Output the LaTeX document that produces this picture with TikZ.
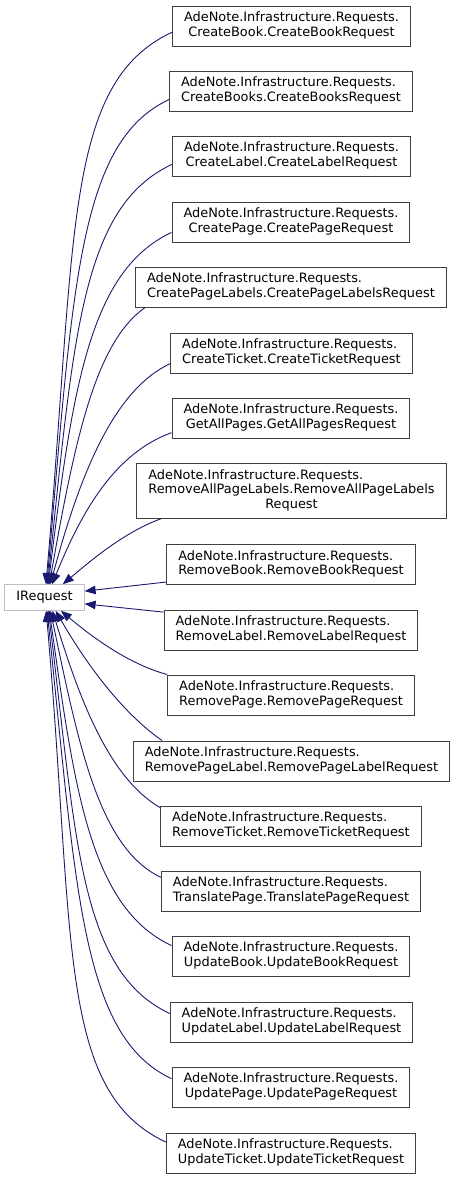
\documentclass[tikz,border=0pt]{standalone}
\usepackage{fontspec}
\setmainfont{DejaVu Sans}
\usetikzlibrary{arrows.meta}

\definecolor{edgeblue}{HTML}{191970}
\definecolor{boxgrey}{HTML}{BFBFBF}

\newcommand{\reqname}[1]{\begin{tabular}{@{}l@{}}AdeNote.Infrastructure.Requests.\\\multicolumn{1}{@{}c@{}}{#1}\end{tabular}}

\begin{document}
\begin{tikzpicture}[x=1pt,y=1pt,
    every node/.style={font=\fontsize{12.9}{14.5}\selectfont, inner xsep=11.5pt, inner ysep=5.5pt},
    cls/.style={draw=black!75, line width=1pt},
    base/.style={draw=boxgrey, line width=1pt, text height=10.15pt, text depth=4.35pt},
    every edge/.style={draw=edgeblue, line width=0.9pt, -{Triangle[length=11pt,width=8.5pt]}}]
            \useasboundingbox (0,0) rectangle (456,-1179);

            \node[base] (ireq) at (44.5,-597.5) {IRequest};

            \node[cls] (c1) at (291.5,-26) {\reqname{CreateBook.CreateBookRequest}};
            \node[cls] (c2) at (291,-91) {\reqname{CreateBooks.CreateBooksRequest}};
            \node[cls] (c3) at (291.5,-156) {\reqname{CreateLabel.CreateLabelRequest}};
            \node[cls] (c4) at (291,-222) {\reqname{CreatePage.CreatePageRequest}};
            \node[cls] (c5) at (291,-287) {\reqname{CreatePageLabels.CreatePageLabelsRequest}};
            \node[cls] (c6) at (291.5,-353) {\reqname{CreateTicket.CreateTicketRequest}};
            \node[cls] (c7) at (291,-418) {\reqname{GetAllPages.GetAllPagesRequest}};
            \node[cls] (c8) at (291.5,-491) {\begin{tabular}{@{}l@{}}AdeNote.Infrastructure.Requests.\\RemoveAllPageLabels.RemoveAllPageLabels\\\multicolumn{1}{@{}c@{}}{Request}\end{tabular}};

            \node[cls] (r1) at (291,-564.5) {\reqname{RemoveBook.RemoveBookRequest}};
            \node[cls] (r2) at (291,-630) {\reqname{RemoveLabel.RemoveLabelRequest}};
            \node[cls] (r3) at (291,-695) {\reqname{RemovePage.RemovePageRequest}};
            \node[cls] (r4) at (291.5,-761) {\reqname{RemovePageLabel.RemovePageLabelRequest}};
            \node[cls] (r5) at (291,-826) {\reqname{RemoveTicket.RemoveTicketRequest}};
            \node[cls] (r6) at (291,-891) {\reqname{TranslatePage.TranslatePageRequest}};
            \node[cls] (r7) at (291,-956) {\reqname{UpdateBook.UpdateBookRequest}};
            \node[cls] (r8) at (291.5,-1022) {\reqname{UpdateLabel.UpdateLabelRequest}};
            \node[cls] (r9) at (291,-1087) {\reqname{UpdatePage.UpdatePageRequest}};
            \node[cls] (r10) at (291,-1153) {\reqname{UpdateTicket.UpdateTicketRequest}};

            \path
            (c1.183) edge[out=205,in=85,out distance=120,in distance=350] (ireq.84)
            (c2.184) edge[out=205,in=85,out distance=100,in distance=300] (ireq.80)
            (c3.184) edge[out=205,in=84,out distance=100,in distance=250] (ireq.77)
            (c4.185) edge[out=205,in=83,out distance=90,in distance=200] (ireq.74)
            (c5.188) edge[out=215,in=80,out distance=60,in distance=150] (ireq.70)
            (c6.185) edge[out=205,in=75,out distance=60,in distance=120] (ireq.66)
            (c7.187) edge[out=200,in=68,out distance=60,in distance=80] (ireq.60)
            (c8.192) edge[out=200,in=40,out distance=40,in distance=35] (ireq.36)
            (r1.188) edge (ireq.9)
            (r2.172) edge (ireq.351)
            (r3.north west) edge[out=165,in=320,out distance=40,in distance=40] (ireq.321)
            (r4.171) edge[out=145,in=300,out distance=50,in distance=60] (ireq.310)
            (r5.172) edge[out=150,in=287,out distance=60,in distance=90] (ireq.301)
            (r6.174) edge[out=155,in=282,out distance=70,in distance=130] (ireq.294)
            (r7.175) edge[out=155,in=278,out distance=90,in distance=180] (ireq.290)
            (r8.176) edge[out=155,in=277,out distance=100,in distance=230] (ireq.286)
            (r9.176) edge[out=155,in=276,out distance=100,in distance=280] (ireq.281)
            (r10.175) edge[out=155,in=275,out distance=120,in distance=330] (ireq.277);
\end{tikzpicture}
\end{document}
